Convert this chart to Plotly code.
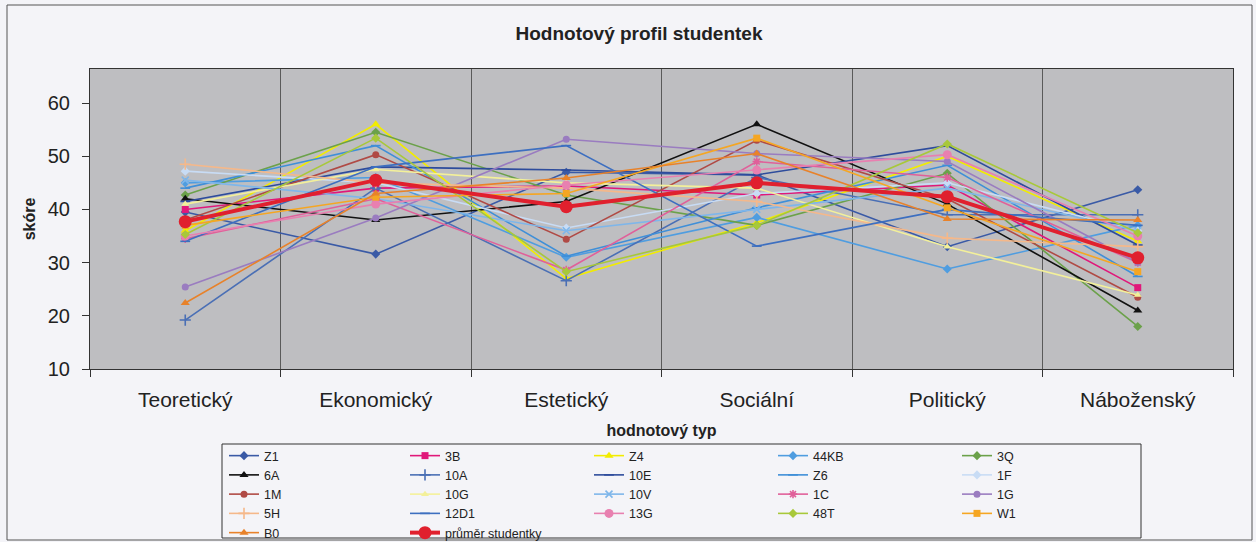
import plotly.graph_objects as go

categories = ["Teoretický", "Ekonomický", "Estetický", "Sociální", "Politický", "Náboženský"]
y_ticks = [10, 20, 30, 40, 50, 60]

Z1 = [39.5, 31.6, 47.0, 46.5, 33.0, 43.7]
B3 = [40.0, 44.0, 44.4, 42.7, 44.6, 25.3]
Z4 = [36.0, 56.0, 27.0, 37.5, 50.0, 34.0]
KB44 = [45.0, 46.0, 31.0, 38.5, 28.8, 37.0]
Q3 = [42.7, 54.5, 42.7, 37.0, 46.8, 18.0]
A6 = [42.0, 38.0, 41.5, 56.0, 41.0, 21.0]
A10 = [19.2, 44.0, 26.6, 46.0, 39.0, 39.0]
E10 = [41.5, 48.0, 47.4, 46.5, 52.0, 33.3]
Z6 = [44.0, 52.0, 31.2, 40.3, 48.3, 27.4]
F1 = [47.2, 45.0, 36.5, 43.0, 45.0, 36.0]
M1 = [38.0, 50.3, 34.4, 53.0, 42.0, 23.5]
G10 = [41.0, 47.5, 45.0, 44.0, 33.0, 23.9]
V10 = [45.5, 42.0, 36.0, 40.0, 44.0, 36.0]
C1 = [34.5, 42.0, 28.6, 49.0, 46.0, 30.0]
G1 = [25.4, 38.4, 53.2, 50.5, 49.0, 30.0]
H5 = [48.5, 45.0, 44.0, 41.5, 34.6, 33.0]
D12 = [34.0, 48.0, 52.0, 33.1, 40.0, 37.0]
G13 = [35.0, 41.0, 44.6, 47.4, 50.3, 35.0]
T48 = [35.3, 53.4, 28.3, 37.0, 52.3, 35.6]
W1 = [37.0, 42.3, 43.0, 53.4, 40.3, 28.3]
B0 = [22.4, 43.0, 45.9, 50.5, 38.2, 38.0]
prumer = [37.7, 45.5, 40.5, 45.0, 42.4, 30.9]

series_names = ["Z1", "3B", "Z4", "44KB", "3Q", "6A", "10A", "10E", "Z6", "1F",
                "1M", "10G", "10V", "1C", "1G", "5H", "12D1", "13G", "48T", "W1",
                "B0", "průměr studentky"]
series_values = [Z1, B3, Z4, KB44, Q3, A6, A10, E10, Z6, F1,
                 M1, G10, V10, C1, G1, H5, D12, G13, T48, W1,
                 B0, prumer]

styles = {
    "Z1": ("#3A5AA6", "diamond", 7),
    "3B": ("#E0187A", "square", 7),
    "Z4": ("#F2EC00", "triangle-up", 8),
    "44KB": ("#4F9DE0", "diamond", 7),
    "3Q": ("#6BA14A", "diamond", 7),
    "6A": ("#111111", "triangle-up", 8),
    "10A": ("#4A6FB5", "cross-thin-open", 8),
    "10E": ("#2E4C9C", "line-ew-open", 7),
    "Z6": ("#3F8FD8", "line-ew-open", 7),
    "1F": ("#C8DCF5", "diamond", 7),
    "1M": ("#B04A45", "circle", 7),
    "10G": ("#F3F09A", "triangle-up", 7),
    "10V": ("#7EB6EA", "x-thin-open", 7),
    "1C": ("#E0609A", "asterisk-open", 7),
    "1G": ("#9A7CC0", "circle", 7),
    "5H": ("#F5B88A", "cross-thin-open", 8),
    "12D1": ("#3D6FC0", "line-ew-open", 7),
    "13G": ("#E880B0", "circle", 9),
    "48T": ("#A8C83A", "diamond", 7),
    "W1": ("#F5A623", "square", 7),
    "B0": ("#E8822A", "triangle-up", 8),
    "průměr studentky": ("#E0202E", "circle", 13),
}

legend_ids = ["legend", "legend2", "legend3", "legend4", "legend5"]

fig = go.Figure()
for i, (name, vals) in enumerate(zip(series_names, series_values)):
    color, symbol, size = styles[name]
    is_avg = name == "průměr studentky"
    open_sym = symbol.endswith("-open")
    fig.add_trace(go.Scatter(
        x=categories, y=vals, name=name, mode="lines+markers",
        legend=legend_ids[i % 5],
        line=dict(color=color, width=4 if is_avg else 1.6),
        marker=dict(symbol=symbol, size=size, color=color,
                    line=dict(color=color, width=1.6 if open_sym else 0)),
    ))

# plot area in pixels: x 90..1233, y 69..369
PL, PW, PB, PH = 90, 1143, 369, 300


def px_x(v):
    return (v - PL) / PW


def px_y(v):
    return (PB - v) / PH


legend_text_x = [265, 446, 630, 814, 998]
legend_top = 441
legend_layouts = {}
for lid, tx in zip(legend_ids, legend_text_x):
    legend_layouts[lid] = dict(
        orientation="v", x=px_x(tx - 41), xanchor="left", y=px_y(legend_top), yanchor="top",
        bgcolor="rgba(0,0,0,0)", borderwidth=0, font=dict(size=12.5, color="#222222"),
        itemwidth=30, tracegroupgap=0,
    )

fig.update_layout(
    width=1256, height=542,
    paper_bgcolor="#F4F4F8",
    plot_bgcolor="#BEBEC1",
    margin=dict(l=PL, r=1256 - PL - PW, t=PB - PH, b=542 - PB, autoexpand=False),
    font=dict(family="Liberation Sans, Arial, sans-serif", color="#222222"),
    title=dict(text="<b>Hodnotový profil studentek</b>", x=639 / 1256, xanchor="center",
               y=1 - 33 / 542, yref="container", yanchor="middle",
               font=dict(size=19, color="#222222")),
    showlegend=True,
    xaxis=dict(type="category", range=[-0.5, 5.5], tickson="boundaries", showgrid=True,
               gridcolor="#5A5A5A", gridwidth=1, ticks="outside", ticklen=7,
               tickcolor="#333333", showline=True, linecolor="#333333", mirror=True,
               tickfont=dict(size=21, color="#222222"), ticklabelstandoff=12,
               title=dict(text="<b>hodnotový typ</b>", font=dict(size=16, color="#222222"),
                          standoff=14)),
    yaxis=dict(range=[10, 66.4], tickvals=y_ticks, showgrid=False, zeroline=False,
               ticks="outside", ticklen=7, tickcolor="#333333",
               showline=True, linecolor="#333333", mirror=True,
               tickfont=dict(size=20, color="#222222"), ticklabelstandoff=8,
               title=dict(text="<b>skóre</b>", font=dict(size=16, color="#222222"),
                          standoff=8)),
    **legend_layouts,
)

# outer chart border
fig.add_shape(type="rect", xref="paper", yref="paper",
              x0=px_x(7), x1=px_x(1252), y0=px_y(540), y1=px_y(5),
              line=dict(color="#555555", width=1), fillcolor="rgba(0,0,0,0)", layer="below")
# legend box
fig.add_shape(type="rect", xref="paper", yref="paper",
              x0=px_x(222), x1=px_x(1141), y0=px_y(538), y1=px_y(444),
              line=dict(color="#333333", width=1), fillcolor="rgba(0,0,0,0)", layer="below")

fig.write_html("out.html", config={"displayModeBar": False},
               post_script="document.body.style.margin='0px';")
